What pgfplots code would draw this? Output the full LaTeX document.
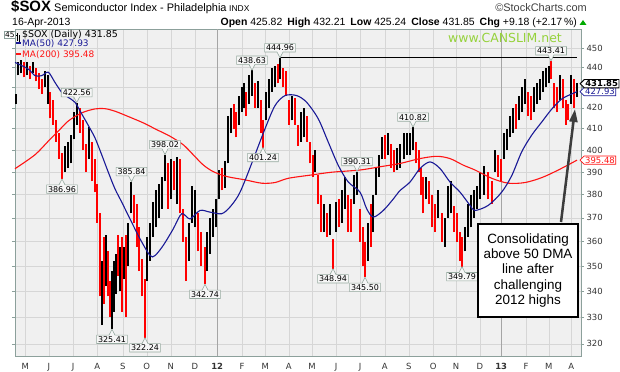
\documentclass[border=0pt]{standalone}
\usepackage{pgfplots}
\pgfplotsset{compat=1.18}
\usepackage{pgfplotstable}
\usepackage{fontspec}
\setmainfont{Liberation Sans}
\newfontfamily\dv{DejaVu Sans}
\usetikzlibrary{shapes.callouts,shapes.symbols,arrows.meta}

\definecolor{plotbg}{RGB}{240,240,240}
\definecolor{gridc}{RGB}{214,214,214}
\definecolor{yearc}{RGB}{165,165,165}
\definecolor{framec}{RGB}{140,160,155}
\definecolor{labborder}{RGB}{150,170,160}
\definecolor{labfill}{RGB}{246,246,246}
\definecolor{ma50}{RGB}{25,25,150}
\definecolor{ma200}{RGB}{255,20,20}
\definecolor{barred}{RGB}{255,0,0}
\definecolor{canslim}{RGB}{150,210,60}
\definecolor{arrowc}{RGB}{60,60,60}
\definecolor{upgreen}{RGB}{0,170,0}

\newcommand\tickfont{\dv\fontsize{8.5}{10}\selectfont}
\newcommand\labfont{\dv\fontsize{8}{9}\selectfont}

\pgfplotstableread{
x lo hi c
16 422 427 1
18 436 443 1
21 437 444 1
24 435 443 0
27 436 443 1
30 434 441 0
33 437 443 1
36 433 440 0
39 429 437 0
42 427 434 0
45 430 438 1
48 422 436 1
50 415 428 0
53 412 424 0
56 404 414 0
59 396 408 0
62 386.96 399 0
65 390 402 1
68 392 404 1
71 394 407 1
74 405 418 1
77 412 422.56 1
80 408 420 0
83 400 414 0
86 390 403 0
89 396 411 1
92 386 404 0
95 381 396 0
97 368 385 0
100 338 372 0
102 327 352 1
104 335 362 0
106 342 363 1
108 338 356 0
110 330 344 0
112 325.41 348 1
114 332 352 1
116 339 355 1
118 346 363 0
120 340 358 1
122 332 362 0
124 345 358 1
126 330 363 0
128 350 368 1
131 372 385.84 1
134 368 380 0
137 358 376 0
139 348 366 0
142 338 353 0
145 322.24 345 0
147 344 362 1
150 352 368 1
153 362 377 1
156 366 382 1
159 370 385 1
162 374 388 1
165 386 398.02 1
168 374 394 0
171 378 396 1
174 382 395 0
177 376 397 1
180 372 396 0
183 360 374 0
186 344 362 0
189 352 368 1
192 368 384 1
195 366 382 1
198 356 372 0
201 350 364 0
205 342.74 358 0
207 348 364 1
210 355 370 1
213 362 374 1
216 366 378 1
219 378 391 1
222 382 392 0
225 383 395 1
228 394 416 1
231 408 420 1
234 410 422 0
236 406 418 0
239 412 426 1
242 418 430 1
244 420 432 1
246 416 428 0
249 422 436 1
252 426 438.63 1
255 420 432 0
258 420 433 1
261 408 424 0
263 401.24 414 0
266 414 428 1
269 420 434 1
272 428 440 1
275 430 441 1
278 432 442 0
280 434 444.96 1
283 430 440 0
286 426 438 0
289 412 424 0
292 414 426 1
295 412 425 0
298 402 412 0
301 404 418 1
304 406 420 1
307 404 416 0
310 394 404 0
313 388 398 0
315 390 400 1
318 376 389 0
321 364 380 0
324 364 376 1
327 362 372 0
330 363 376 1
333 348.94 361 0
336 364 377 1
339 366 378 0
342 368 382 1
345 374 388 1
348 364 380 0
351 364 378 0
354 376 389 1
357 380 390.31 1
360 360 374 0
363 350 366 0
365 345.5 360 0
368 352 368 1
371 358 376 0
373 364 380 1
376 380 392 1
379 388 398 1
382 396 406 1
385 396 407 0
388 398 408 1
391 392 403 0
394 390 400 0
397 391 401 1
400 392 403 1
404 396 408 1
407 398 408 1
410 398 408 1
413 400 410.82 1
416 394 404 0
419 390 400 0
421 380 392 0
423 372 388 0
426 378 388 1
429 376 386 0
432 366 380 0
435 364 376 0
438 370 382 1
442 360 372 0
445 358 370 1
448 370 384 1
451 372 386 1
454 364 375 0
457 360 372 0
460 352 364 0
462 349.79 362 0
465 356 366 1
468 362 376 1
471 366 380 1
474 370 382 1
477 374 384 1
480 378 390 1
484 380 393 1
488 378 390 0
492 376 386 0
495 390 400 1
498 388 398 0
501 386 396 0
504 396 408 1
507 400 410 1
510 406 416 1
513 408 420 1
516 410 422 0
519 414 426 1
522 418 430 1
525 422 434 1
528 416 428 0
531 414 426 0
534 418 430 1
537 422 432 1
540 424 434 1
543 428 438 1
546 430 440 1
549 432 441 1
551 434 443.41 0
554 420 432 0
557 418 430 0
560 424 436 1
563 420 434 0
566 412 424 0
568 414 422 0
571 422 436 1
574 420 434 0
577 425.24 432.21 1
}\bars

\pgfplotstableread{
x ma
15 442.6
28.3 439.2
35 435.9
41.7 435.9
48.3 437.6
55 432.5
61.7 427.6
68.3 425.1
75 422.7
81.7 417.1
88.3 411.6
95 405.7
101.7 398.0
108.3 390.0
115 382.6
121.7 376.8
130 369.6
140 361.2
150 354.3
155 354.3
163.3 358.5
173.3 365.4
181.7 371.8
190 369.6
200 373.2
210 372.5
221.7 371.8
230 374.7
238.3 379.7
245 386.3
255 398.0
265 410.0
275 421.1
285 426.0
296.7 426.0
306.7 422.7
318.3 414.7
328.3 403.7
338.3 393.1
348.3 385.6
360 381.2
366.7 373.9
373.3 370.4
383.3 373.2
393.3 378.2
400 381.9
410 385.6
420 391.7
430 394.7
440 391.7
450 385.6
460 381.2
470 375.4
475 373.2
488.3 375.4
501.7 381.2
511.7 388.5
521.7 399.3
531.7 407.0
541.7 413.2
551.7 419.4
561.7 424.3
571.7 426.8
577 427.93
}\mafifty

\pgfplotstableread{
x ma
15 391.6
35 398.0
48.3 404.2
58.3 408.9
68.3 413.7
81.7 417.6
95 419.5
105 419.6
115 418.4
130 415.5
143.3 412.8
156.7 409.6
170 406.5
183.3 402.5
193.3 397.9
203.3 393.3
213.3 390.3
226.7 388.1
245 386.6
261.7 385.1
275 385.4
288.3 387.3
311.7 388.8
331.7 390.0
360 391.0
380 392.5
400 394.0
420 396.2
436.7 397.3
450 396.2
463.3 393.2
475 391.0
491.7 387.3
508.3 385.1
525 385.4
541.7 387.6
558.3 391.0
577 395.48
}\matwohundred

\tikzset{lab/.style={rectangle callout, draw=labborder, fill=labfill, line width=0.6bp,
  font=\labfont, inner xsep=1.5bp, inner ysep=1.2bp, callout pointer width=6bp,
  text height=6bp, text depth=0bp}}
\newcommand{\labu}[3]{\node[lab, anchor=south, callout absolute pointer={(axis cs:#1,#2)}] at ([yshift=5.5bp]axis cs:#1,#2) {#3};}
\newcommand{\labd}[3]{\node[lab, anchor=north, callout absolute pointer={(axis cs:#1,#2)}] at ([yshift=-5.5bp]axis cs:#1,#2) {#3};}

\begin{document}
\begin{tikzpicture}
\useasboundingbox (0,0) rectangle (620bp,372bp);
\begin{axis}[
  at={(15bp,16bp)}, anchor=south west,
  width=566bp, height=327bp, scale only axis,
  xmin=15, xmax=581, ymode=log, ymin=315.6, ymax=460,
  clip=false,
  axis background/.style={fill=plotbg},
  axis line style={draw=framec, line width=0.8bp},
  ytick={320,330,340,350,360,370,380,390,400,410,420,430,440,450},
  yticklabels={320,330,340,350,360,370,380,390,400,410,420,430,440,450},
  yticklabel pos=right,
  xtick={25.2,48.8,73.2,97.2,122.8,146.8,170.8,194.8,217.2,242,265.2,288.8,312,336,360,384.8,408.8,433.2,456,480,501.2,526,548.8,571.2},
  xticklabels={M,J,J,A,S,O,N,D,\textbf{12},F,M,A,M,J,J,A,S,O,N,D,\textbf{13},F,M,A},
  extra x ticks={217.2,501.2}, extra x tick labels={},
  extra x tick style={major grid style={yearc, line width=0.8bp}, xtick style={draw=none}},
  xmajorgrids, ymajorgrids,
  major grid style={gridc, line width=0.6bp},
  xtick style={draw=none},
  ytick style={draw=framec, line width=0.6bp},
  tick align=outside, major tick length=3bp,
  ticklabel style={font=\tickfont, text=black!80},
  xticklabel style={yshift=-1bp},
  yticklabel style={xshift=-1bp},
  /pgf/number format/assume math mode=true,
]
\addplot[draw=none, mark=none, forget plot,
  restrict expr to domain={\thisrow{c}}{0.5:1.5},
  error bars/.cd, y dir=plus, y explicit, error mark=none,
  error bar style={black, line width=1.25bp}]
  table[x=x, y=lo, y error expr=\thisrow{hi}-\thisrow{lo}] {\bars};
\addplot[draw=none, mark=none, forget plot,
  restrict expr to domain={\thisrow{c}}{-0.5:0.5},
  error bars/.cd, y dir=plus, y explicit, error mark=none,
  error bar style={barred, line width=1.25bp}]
  table[x=x, y=lo, y error expr=\thisrow{hi}-\thisrow{lo}] {\bars};
\addplot[ma200, line width=1.1bp, smooth, tension=0.5] table[x=x, y=ma] {\matwohundred};
\addplot[ma50, line width=1.1bp, smooth, tension=0.5] table[x=x, y=ma] {\mafifty};
\addplot[black, line width=0.8bp] coordinates {(280,444.96) (577,444.96)};

\labu{76.7}{422.56}{422.56}
\labd{62}{386.96}{386.96}
\labu{131.5}{385.84}{385.84}
\labd{112}{325.41}{325.41}
\labd{145}{322.24}{322.24}
\labu{165}{398.02}{398.02}
\labd{205}{342.74}{342.74}
\labu{252}{438.63}{438.63}
\labd{263}{401.24}{401.24}
\labu{280}{444.96}{444.96}
\labd{333}{348.94}{348.94}
\labu{357}{390.31}{390.31}
\labd{365}{345.5}{345.50}
\labu{413}{410.82}{410.82}
\labd{462}{349.79}{349.79}
\labu{551}{443.41}{443.41}

\node[signal, signal to=west, draw=ma50, line width=0.7bp, fill=white, text=ma50,
  font=\dv\fontsize{8.5}{9}\selectfont, inner sep=1bp, anchor=west]
  at ([xshift=-1.5bp]axis cs:581,427.93) {427.93};
\node[signal, signal to=west, draw=black, line width=0.9bp, fill=white,
  font=\dv\bfseries\fontsize{8.5}{9}\selectfont, inner sep=1bp, anchor=west]
  at ([xshift=-1.5bp]axis cs:581,431.85) {431.85};
\node[signal, signal to=west, draw=ma200, line width=0.7bp, fill=white, text=ma200,
  font=\dv\fontsize{8.5}{9}\selectfont, inner sep=1bp, anchor=west]
  at ([xshift=-1.5bp]axis cs:581,395.48) {395.48};
\end{axis}

% header
\node[anchor=base west, inner sep=0, font=\bfseries\fontsize{15}{17}\selectfont] at (11bp,360bp) {\$SOX};
\node[anchor=base west, inner sep=0, font=\fontsize{11}{13}\selectfont] at (54bp,360bp) {Semiconductor Index - Philadelphia};
\node[anchor=base west, inner sep=0, font=\fontsize{8.5}{10}\selectfont] at (229bp,360bp) {INDX};
\node[anchor=base east, inner sep=0, font=\fontsize{11}{13}\selectfont, text=black!75] at (587bp,360bp) {\textcopyright StockCharts.com};
\node[anchor=base west, inner sep=0, font=\fontsize{10.5}{12}\selectfont] at (12bp,346bp) {16-Apr-2013};
\node[anchor=base east, inner sep=0, font=\fontsize{10.5}{12}\selectfont] at (577bp,346bp)
  {\textbf{Open} 425.82\hspace{5bp}\textbf{High} 432.21\hspace{5bp}\textbf{Low} 425.24\hspace{5bp}\textbf{Close} 431.85\hspace{5bp}\textbf{Chg} +9.18 (+2.17\,\%)};
\fill[upgreen] (579.5bp,347bp) -- (586.5bp,347bp) -- (583bp,352bp) -- cycle;

% legend in plot
\node[draw=framec, fill=white, inner sep=0.8bp, font=\dv\fontsize{7.5}{8}\selectfont] at (10bp,337bp) {45};
\draw[black, line width=0.6bp] (16.8bp,331bp) -- (16.8bp,339bp) (15.8bp,337bp) -- (16.8bp,337bp)
  (19.4bp,330bp) -- (19.4bp,337bp) (19.4bp,333bp) -- (20.4bp,333bp);
\node[anchor=base west, inner sep=0, font=\dv\fontsize{9.5}{11}\selectfont] at (22bp,334.5bp) {\$SOX (Daily) 431.85};
\draw[ma50, line width=2bp] (16bp,329bp) -- (21bp,329bp);
\node[anchor=base west, inner sep=0, font=\dv\fontsize{9}{10}\selectfont, text=ma50] at (22bp,325.5bp) {MA(50) 427.93};
\draw[ma200, line width=2bp] (16bp,318bp) -- (21bp,318bp);
\node[anchor=base west, inner sep=0, font=\dv\fontsize{9}{10}\selectfont, text=ma200] at (22bp,314.5bp) {MA(200) 395.48};
\node[anchor=base, inner sep=0, font=\dv\fontsize{12.5}{14}\selectfont, text=canslim] at (505bp,329bp) {www.CANSLIM.net};

% annotation
\draw[arrowc, line width=2.5bp, -{Triangle[length=13bp,width=8bp]}] (561bp,150bp) -- (575bp,263bp);
\draw[black, line width=2bp, fill=white] (478bp,55bp) rectangle (578bp,148bp);
\node[align=center, inner sep=0, font=\fontsize{13.5}{15.5}\selectfont] at (528bp,101.5bp)
  {Consolidating\\above 50 DMA\\line after\\challenging\\2012 highs};
\end{tikzpicture}
\end{document}
